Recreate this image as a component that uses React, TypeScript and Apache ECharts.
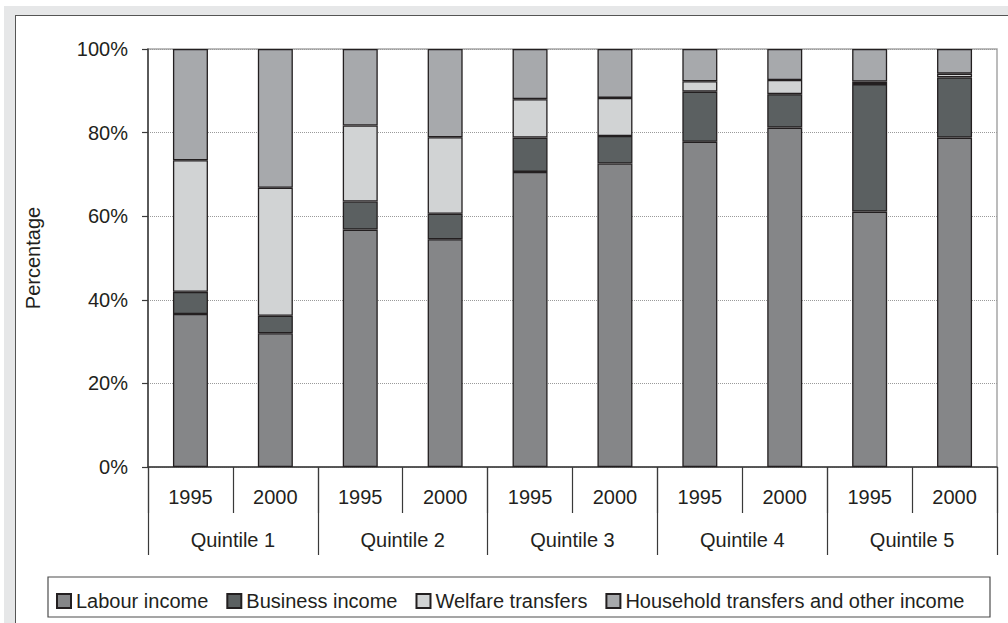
import React, { useEffect, useRef } from 'react';
import * as echarts from 'echarts';

const years = ['1995', '2000', '1995', '2000', '1995', '2000', '1995', '2000', '1995', '2000'];
const quintiles = ['Quintile 1', 'Quintile 2', 'Quintile 3', 'Quintile 4', 'Quintile 5'];
const yTicks = [0, 20, 40, 60, 80, 100];

const labour = [36.6, 32.0, 56.8, 54.5, 70.6, 72.6, 77.8, 81.2, 61.1, 78.8];
const business = [5.3, 4.2, 6.7, 6.1, 8.2, 6.6, 12.0, 8.0, 30.5, 14.4];
const welfare = [31.5, 30.6, 18.2, 18.3, 9.2, 9.1, 2.5, 3.4, 0.6, 0.9];
const household = [26.6, 33.2, 18.3, 21.1, 12.0, 11.7, 7.7, 7.4, 7.8, 5.9];

const seriesNames = ['Labour income', 'Business income', 'Welfare transfers', 'Household transfers and other income'];
const seriesColors = ['#858688', '#5b6061', '#d1d3d4', '#a7a9ac'];

const FONT = '"Liberation Sans", Arial, sans-serif';
const INK = '#231f20';

const App: React.FC = () => {
  const chartRef = useRef<HTMLDivElement>(null);

  useEffect(() => {
    if (!chartRef.current) return;
    const chart = echarts.init(chartRef.current, undefined, { renderer: 'svg' });
    const values = [labour, business, welfare, household];

    chart.setOption({
      animation: false,
      textStyle: { fontFamily: FONT, color: INK },
      grid: {
        left: 148,
        right: 11,
        top: 49,
        bottom: 156,
        show: true,
        borderColor: '#a6a6a6',
        borderWidth: 1.5,
        backgroundColor: 'transparent',
      },
      legend: {
        left: 56,
        top: 591,
        padding: 0,
        itemGap: 18,
        itemWidth: 14,
        itemHeight: 14,
        icon: 'rect',
        data: seriesNames,
        textStyle: { fontSize: 20, color: INK, fontFamily: FONT },
      },
      xAxis: [
        {
          type: 'category',
          data: years,
          position: 'bottom',
          axisLine: { show: true, lineStyle: { color: '#3a3a3a', width: 1.5 } },
          axisTick: { show: true, length: 46, interval: 0, lineStyle: { color: '#3a3a3a', width: 1.2 } },
          axisLabel: { interval: 0, fontSize: 20, color: INK, margin: 20, fontFamily: FONT },
        },
        {
          type: 'category',
          data: quintiles,
          position: 'bottom',
          axisLine: { show: false },
          axisTick: { show: true, length: 88, interval: 0, lineStyle: { color: '#3a3a3a', width: 1.2 } },
          axisLabel: { interval: 0, fontSize: 20, color: INK, margin: 63, fontFamily: FONT },
        },
      ],
      yAxis: {
        type: 'value',
        min: yTicks[0],
        max: yTicks[yTicks.length - 1],
        interval: 20,
        name: 'Percentage',
        nameLocation: 'middle',
        nameRotate: 90,
        nameGap: 105,
        nameTextStyle: { fontSize: 20, color: INK, fontFamily: FONT },
        axisLine: { show: true, lineStyle: { color: '#3a3a3a', width: 1.5 } },
        axisTick: { show: true, length: 6, lineStyle: { color: '#3a3a3a', width: 1.2 } },
        axisLabel: { formatter: '{value}%', fontSize: 20, color: INK, margin: 20, fontFamily: FONT },
        splitLine: { show: true, lineStyle: { color: '#9a9a9a', type: 'dotted', width: 1 } },
      },
      series: seriesNames.map((name, i) => ({
        name,
        type: 'bar',
        stack: 'total',
        xAxisIndex: 0,
        barWidth: 35,
        data: values[i],
        itemStyle: { color: seriesColors[i], borderColor: INK, borderWidth: 1.3 },
      })),
      graphic: [
        {
          type: 'rect',
          shape: { x: 48, y: 577, width: 942, height: 40 },
          style: { fill: 'none', stroke: '#4d4d4d', lineWidth: 1.2 },
        },
      ],
    });

    return () => chart.dispose();
  }, []);

  return (
    <div style={{ position: 'fixed', left: 0, top: 0, width: 1008, height: 623, background: '#fff', overflow: 'hidden' }}>
      <div style={{ position: 'absolute', left: 4, top: 6, right: 0, bottom: 0, background: '#e6e7e8' }} />
      <div
        style={{
          position: 'absolute',
          left: 15,
          top: 15,
          right: -2,
          bottom: -2,
          background: '#fff',
          borderTop: '1px solid #555',
          borderLeft: '1px solid #555',
        }}
      />
      <div ref={chartRef} style={{ position: 'absolute', left: 0, top: 0, width: 1008, height: 623 }} />
    </div>
  );
};

export default App;
